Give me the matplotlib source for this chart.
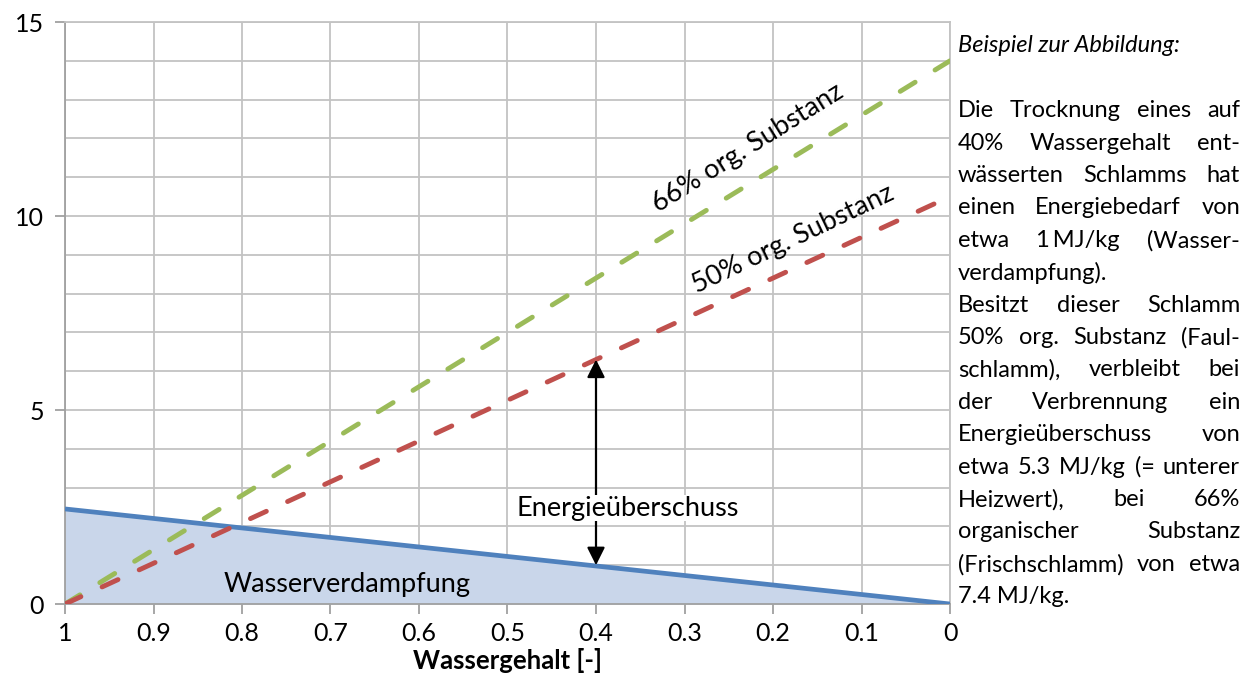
import matplotlib
matplotlib.use("Agg")
import matplotlib.pyplot as plt
from matplotlib.ticker import MultipleLocator, FuncFormatter

plt.rcParams["font.family"] = ["Lato", "DejaVu Sans"]

# data
water = [1.0, 0.0]
evaporation = [2.45, 0.0]
org66 = [0.0, 14.0]
org50 = [0.0, 10.5]
example_water = 0.4
example_low = 1.0
example_high = 6.3

text_lines = [
    ("Beispiel zur Abbildung:", False),
    ("", False),
    ("Die Trocknung eines auf", True),
    ("40% Wassergehalt ent-", True),
    ("wässerten Schlamms hat", True),
    ("einen Energiebedarf von", True),
    ("etwa|1\u2009MJ/kg|(Wasser-", True),
    ("verdampfung).", False),
    ("Besitzt dieser Schlamm", True),
    ("50% org. Substanz (Faul-", True),
    ("schlamm), verbleibt bei", True),
    ("der Verbrennung ein", True),
    ("Energieüberschuss von", True),
    ("etwa 5.3 MJ/kg (= unterer", True),
    ("Heizwert), bei 66%", True),
    ("organischer Substanz", True),
    ("(Frischschlamm) von etwa", True),
    ("7.4 MJ/kg.", False),
]

GRID = "#C3C3C3"
AXIS = "#A0A0A0"
BLUE = "#4F81BD"
FILL = "#C9D6EA"
GREEN = "#9BBB59"
RED = "#C0504D"

fig = plt.figure(figsize=(12.54, 6.85), dpi=100)
ax = fig.add_axes([65 / 1254, 1 - 604 / 685, 885 / 1254, 582 / 685])

ax.set_xlim(1, 0)
ax.set_ylim(0, 15)

ax.fill_between(water, evaporation, 0, color=FILL, lw=0, zorder=1)
ax.plot(water, evaporation, color=BLUE, lw=3.4, solid_capstyle="butt", zorder=3)
ax.plot(water, org66, color=GREEN, lw=3.5, dash_capstyle="round",
        linestyle=(0, (3.6, 4.8)), zorder=4)
ax.plot(water, org50, color=RED, lw=3.5, dash_capstyle="round",
        linestyle=(0, (3.6, 4.8)), zorder=4)

ax.annotate("", xy=(example_water, example_high), xytext=(example_water, example_low),
            arrowprops=dict(arrowstyle="<|-|>", color="black", lw=1.6,
                            mutation_scale=27, shrinkA=0, shrinkB=0),
            zorder=5)
ax.text(0.364, 2.47, "Energieüberschuss", fontsize=19.5, ha="center", va="center",
        bbox=dict(facecolor="white", edgecolor="none", pad=0.5), zorder=6)
ax.text(0.681, 0.5, "Wasserverdampfung", fontsize=19.5, ha="center", va="center", zorder=6)
ax.text(0.228, 11.75, "66% org. Substanz", fontsize=19.5, ha="center", va="center",
        rotation=32, rotation_mode="anchor", zorder=6)
ax.text(0.177, 9.4, "50% org. Substanz", fontsize=19.5, ha="center", va="center",
        rotation=25.5, rotation_mode="anchor", zorder=6)

ax.xaxis.set_major_locator(MultipleLocator(0.1))
ax.yaxis.set_major_locator(MultipleLocator(5))
ax.yaxis.set_minor_locator(MultipleLocator(1))
ax.xaxis.set_major_formatter(FuncFormatter(lambda v, p: f"{v:.1f}".rstrip("0").rstrip(".") if abs(v) > 1e-9 else "0"))
ax.grid(True, which="both", color=GRID, lw=1.3, zorder=0)
ax.set_axisbelow(True)
ax.tick_params(axis="both", which="major", direction="out", length=7, width=1.3,
               color=AXIS, labelsize=18, pad=6)
ax.tick_params(axis="y", which="minor", length=0)
ax.tick_params(axis="y", which="major", pad=8)
for side in ["top", "right"]:
    ax.spines[side].set_color(GRID)
    ax.spines[side].set_linewidth(1.3)
for side in ["left", "bottom"]:
    ax.spines[side].set_color(AXIS)
    ax.spines[side].set_linewidth(1.3)
ax.set_xlabel("Wassergehalt [-]", fontsize=18.5, fontweight="bold", labelpad=2)

# justified text block on the right
renderer = fig.canvas.get_renderer()
W = fig.bbox.width
H = fig.bbox.height
x_left = 958
x_right = 1240
y_first = 46
step = 32.4
for i, (line, justify) in enumerate(text_lines):
    if not line:
        continue
    y = 1 - (y_first + i * step) / H
    style = "italic" if i == 0 else "normal"
    words = line.split("|") if "|" in line else line.split(" ")
    if not justify or len(words) == 1:
        fig.text(x_left / W, y, line.replace("|", " "), fontsize=17, style=style,
                 ha="left", va="center")
        continue
    objs = [fig.text(x_left / W, y, w, fontsize=17, ha="left", va="center") for w in words]
    widths = [t.get_window_extent(renderer).width for t in objs]
    gap = (x_right - x_left - sum(widths)) / (len(words) - 1)
    x = x_left
    for t, w in zip(objs, widths):
        t.set_x(x / W)
        x += w + gap

fig.savefig("out.png", dpi=100, facecolor="white")
